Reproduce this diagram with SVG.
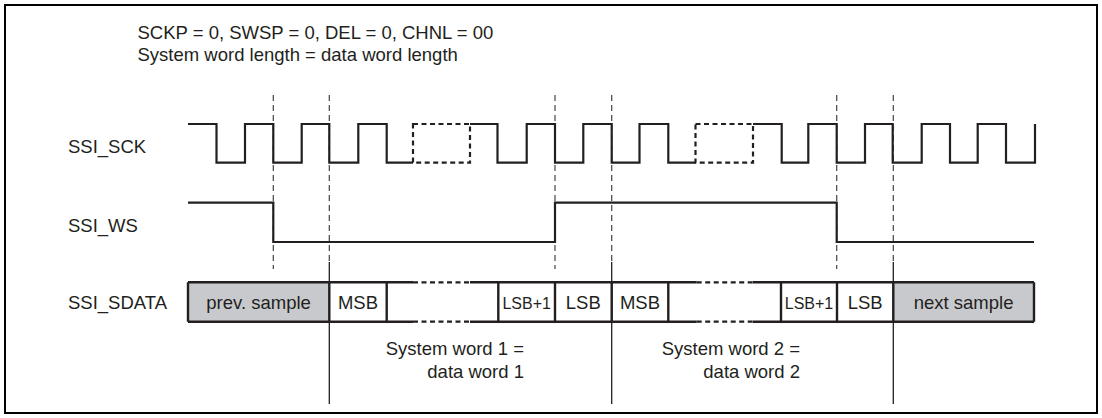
<svg xmlns="http://www.w3.org/2000/svg" width="1102" height="418" viewBox="0 0 1102 418">
<style>
text{font-family:"Liberation Sans",Arial,sans-serif;font-size:18.5px;fill:#231f20}
.sig{fill:none;stroke:#231f20;stroke-width:2.2;stroke-linejoin:miter;stroke-linecap:butt}
.sigd{fill:none;stroke:#231f20;stroke-width:2.2;stroke-dasharray:5 3.5}
.guide{fill:none;stroke:#444;stroke-width:1.2;stroke-dasharray:6 4}
.bound{fill:none;stroke:#231f20;stroke-width:1.3}
.box{fill:none;stroke:#231f20;stroke-width:2.4}
.gray{fill:#c8c9cd;stroke:none}
.sm{font-size:16px}
</style>
<rect x="5" y="5" width="1092" height="408" fill="#fff" stroke="#000" stroke-width="2"/>
<g id="header">
<text x="137.5" y="38.5">SCKP = 0, SWSP = 0, DEL = 0, CHNL = 00</text>
<text x="137.5" y="61">System word length = data word length</text>
</g>
<g id="connectors">
<path class="guide" d="M273.3,95V269M555,95V269M836.7,95V269M329.3,95V262M611.7,95V262M893.3,95V262"/>
<path class="bound" d="M329.3,262V404M611.7,262V404M893.3,262V404"/>
</g>
<g id="ssi_sck">
<text x="68" y="153">SSI_SCK</text>
<path class="sig" d="M188,124H216.5V162.7H245V124H273.3V162.7H301.7V124H329.3V162.7H358.3V124H386.7V162.7H413"/>
<rect class="sigd" x="413" y="124" width="57" height="38.7"/>
<path class="sig" d="M470,124H497.5V162.7H526.7V124H555V162.7H583.3V124H611.7V162.7H639.5V124H668.3V162.7H695.5"/>
<rect class="sigd" x="695.5" y="124" width="57.5" height="38.7"/>
<path class="sig" d="M753,124H781.7V162.7H808.3V124H836.7V162.7H865V124H892.7V162.7H921.7V124H950V162.7H977.7V124H1006V162.7H1035V124"/>
</g>
<g id="ssi_ws">
<text x="68" y="232">SSI_WS</text>
<path class="sig" d="M188,202.7H273.3V242H555V202.7H836.7V242H1034"/>
</g>
<g id="ssi_sdata">
<text x="68" y="309">SSI_SDATA</text>
<rect class="gray" x="188" y="282.3" width="141.3" height="39.4"/>
<rect class="gray" x="893.3" y="282.3" width="140.7" height="39.4"/>
<path class="box" d="M188,282.3H413M470,282.3H696.7M753,282.3H1034M188,321.7H413M470,321.7H696.7M753,321.7H1034"/>
<path class="sigd" d="M413,282.3H470M696.7,282.3H753M413,321.7H470M696.7,321.7H753"/>
<path class="box" d="M188,282.3V321.7M329.3,282.3V321.7M386.7,282.3V321.7M498.3,282.3V321.7M555,282.3V321.7M611.7,282.3V321.7M668.3,282.3V321.7M781,282.3V321.7M837,282.3V321.7M893.3,282.3V321.7M1034,282.3V321.7"/>
<text x="258.6" y="309" text-anchor="middle">prev. sample</text>
<text x="358" y="309" text-anchor="middle">MSB</text>
<text class="sm" x="526.7" y="308.5" text-anchor="middle">LSB+1</text>
<text x="583.3" y="309" text-anchor="middle">LSB</text>
<text x="640" y="309" text-anchor="middle">MSB</text>
<text class="sm" x="809" y="308.5" text-anchor="middle">LSB+1</text>
<text x="865.2" y="309" text-anchor="middle">LSB</text>
<text x="963.6" y="309" text-anchor="middle">next sample</text>
</g>
<g id="word1">
<text x="524" y="355" text-anchor="end">System word 1 =</text>
<text x="524" y="377.5" text-anchor="end">data word 1</text>
</g>
<g id="word2">
<text x="800" y="355" text-anchor="end">System word 2 =</text>
<text x="800" y="377.5" text-anchor="end">data word 2</text>
</g>
</svg>
